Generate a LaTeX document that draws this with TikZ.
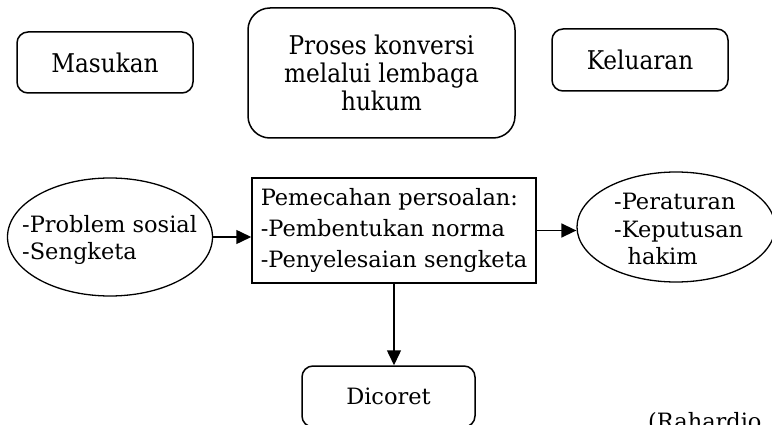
\documentclass[tikz,border=0pt]{standalone}
\usepackage{fontspec}
\setmainfont{DejaVu Serif}
\newfontfamily\condfont{DejaVu Serif Condensed}
\usetikzlibrary{arrows.meta,shapes.geometric}
\tikzset{
  rbox/.style={draw,line width=1.5pt,rounded corners=11pt,align=center,inner sep=0pt},
  sqbox/.style={draw,line width=1.5pt,align=left,inner sep=0pt},
  oval/.style={draw,line width=1.3pt,ellipse,inner sep=0pt},
  ovaltxt/.style={align=left,inner sep=0pt,anchor=west,font=\fontsize{22.5}{27.5}\selectfont},
  arr/.style={line width=1.5pt,-{Triangle[length=15pt,width=14pt]}},
  txt/.style={font=\fontsize{22.5}{31}\selectfont},
  toptxt/.style={font=\condfont\fontsize{25.8}{28}\selectfont}
}
\begin{document}
\begin{tikzpicture}[x=1pt,y=-1pt]
\useasboundingbox (0,0) rectangle (772,425);
\clip (0,0) rectangle (772,425);
% upper row
\node[rbox,toptxt,minimum width=176pt,minimum height=61pt] (masukan) at (105,62.5) {Masukan};
\node[rbox,toptxt,rounded corners=22pt,minimum width=267pt,minimum height=130pt] (proses) at (381.5,73) {Proses konversi\\melalui lembaga\\hukum};
\node[rbox,toptxt,minimum width=176pt,minimum height=62pt] (keluaran) at (640,60) {Keluaran};
% lower row
\node[oval,minimum width=205pt,minimum height=118pt] (input) at (110,237) {};
\node[ovaltxt] (inputtxt) at (22,240) {-Problem sosial\\-Sengketa};
\node[sqbox,txt,minimum width=284pt,minimum height=105pt] (pemecahan) at (394,230.5) {Pemecahan persoalan:\\-Pembentukan norma\\-Penyelesaian sengketa};
\node[oval,minimum width=198pt,minimum height=110pt] (output) at (676,227) {};
\node[ovaltxt] (outputtxt) at (614,229) {-Peraturan\\-Keputusan\\\hspace*{0.6em}hakim};
\node[rbox,txt,minimum width=173pt,minimum height=61pt] (dicoret) at (388.5,396.5) {Dicoret};
\node[txt,anchor=base west,inner sep=0pt] (sumber) at (648,429) {(Rahardjo};
% connectors
\draw[arr] (input.east) -- (input.east -| pemecahan.west);
\draw[arr] (pemecahan.east) -- (pemecahan.east -| output.west);
\draw[arr] (pemecahan.south) -- (pemecahan.south |- dicoret.north);
\end{tikzpicture}
\end{document}
